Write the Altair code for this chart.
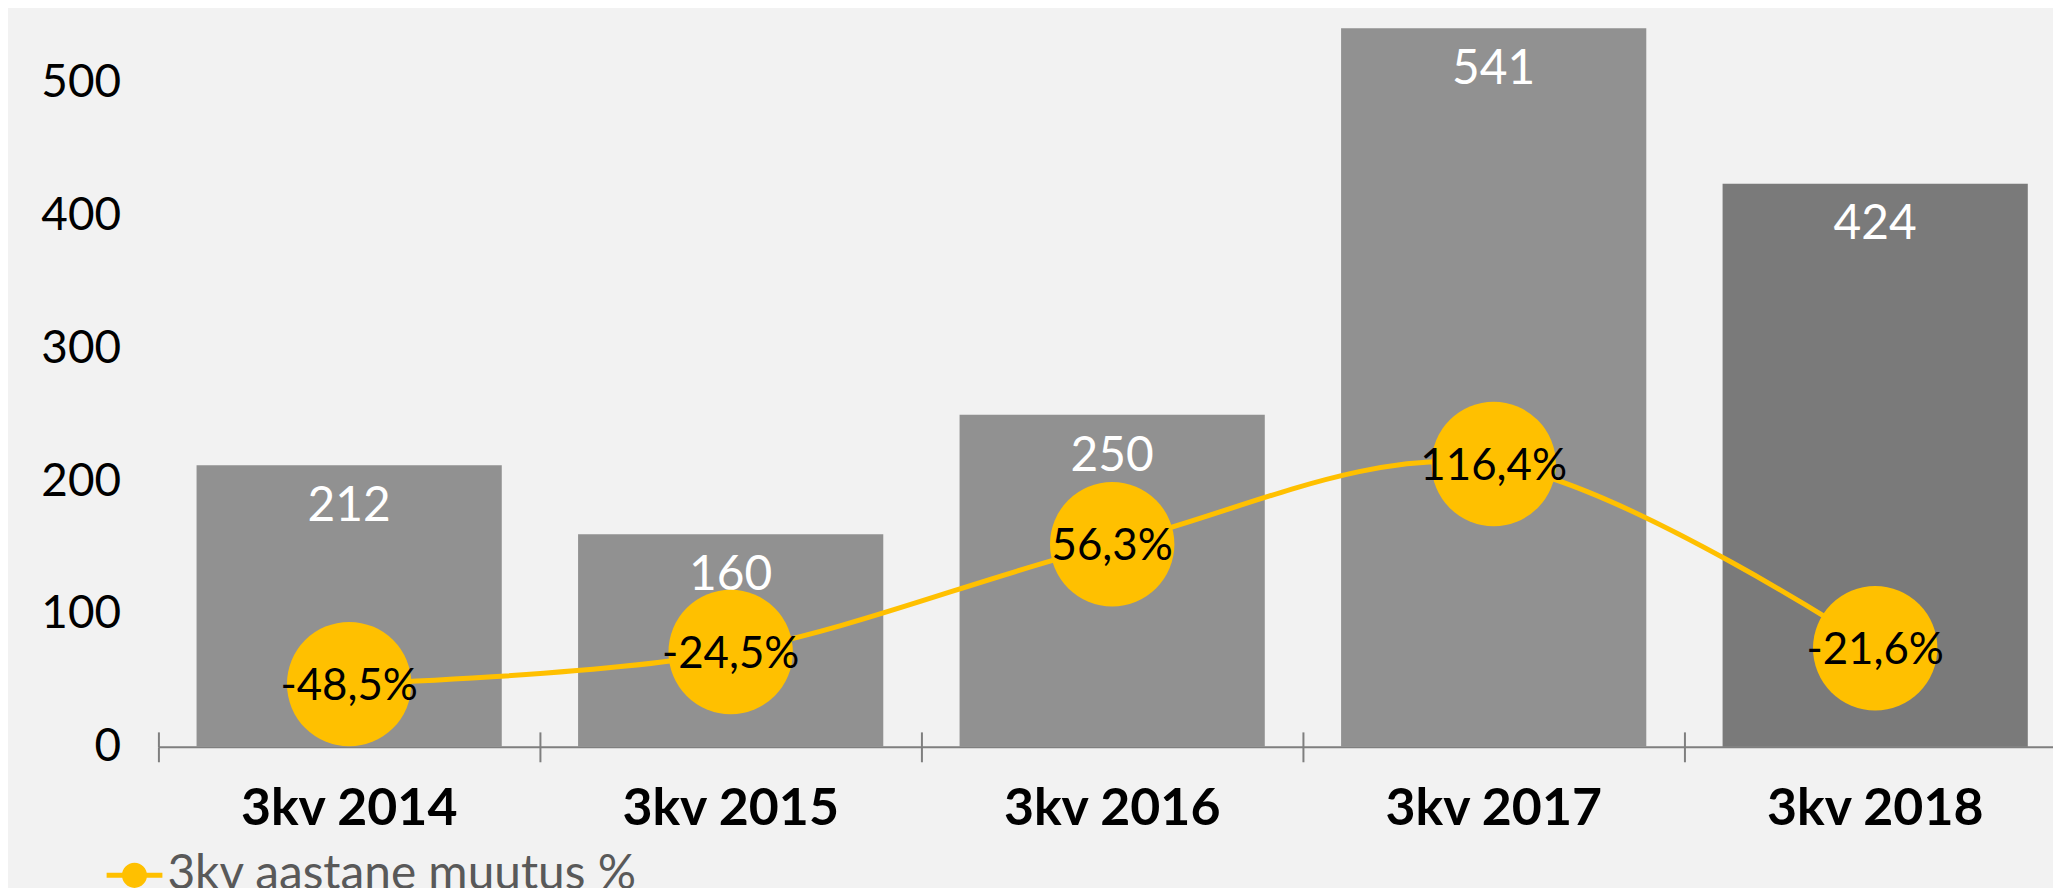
import altair as alt
import pandas as pd

quarters = ["3kv 2014", "3kv 2015", "3kv 2016", "3kv 2017", "3kv 2018"]
counts = [212, 160, 250, 541, 424]
pct_change = [-48.5, -24.5, 56.3, 116.4, -21.6]
series_name = "3kv aastane muutus %"

df = pd.DataFrame({"quarter": quarters, "count": counts, "pct": pct_change})

FONT = "Lato"
YELLOW = "#FFC000"
AXIS_GREY = "#7f7f7f"

xscale = alt.Scale(domain=quarters, range=[0, 1915], paddingInner=0, paddingOuter=0)

main_x_axis = alt.Axis(
    title=None, orient="bottom", labelAngle=0, labelFont=FONT, labelFontSize=52,
    labelFontWeight="bold", labelColor="#000000", labelBaseline="alphabetic",
    labelPadding=63, labelLimit=0, labelOverlap=False,
    domainColor=AXIS_GREY, domainWidth=2, tickColor=AXIS_GREY, tickWidth=2, tickSize=15,
    bandPosition=0, grid=False,
)
upper_tick_axis = alt.Axis(
    title=None, orient="bottom", labels=False, domain=False, tickColor=AXIS_GREY,
    tickWidth=2, tickSize=15, bandPosition=0, offset=-15, grid=False,
)
y_axis = alt.Axis(
    title=None, values=[0, 100, 200, 300, 400, 500], labelFont=FONT, labelFontSize=46,
    labelColor="#000000", labelPadding=38, ticks=False, tickSize=0, domain=False, grid=False,
)

base = alt.Chart(df)

bars = base.mark_bar(width=alt.RelativeBandSize(0.8)).encode(
    x=alt.X("quarter:N", sort=quarters, scale=xscale, axis=main_x_axis),
    y=alt.Y("count:Q", scale=alt.Scale(domain=[0, 555], nice=False, zero=True), axis=y_axis),
    color=alt.condition(alt.datum.quarter == "3kv 2018", alt.value("#7a7a7a"), alt.value("#919191")),
)

bar_text = base.mark_text(font=FONT, fontSize=48, color="#ffffff", baseline="alphabetic", dy=56).encode(
    x=alt.X("quarter:N", sort=quarters, scale=xscale, axis=upper_tick_axis),
    y=alt.Y("count:Q", scale=alt.Scale(domain=[0, 555], nice=False, zero=True), axis=None),
    text=alt.Text("count:Q"),
)

pscale = alt.Scale(domain=[-95.5, 456.7], nice=False, zero=False)

line = base.mark_line(interpolate="cardinal", color=YELLOW, strokeWidth=5).encode(
    x=alt.X("quarter:N", sort=quarters, scale=xscale, axis=None),
    y=alt.Y("pct:Q", scale=pscale, axis=None),
)

symbol_path = (
    "M-1,-0.09L1,-0.09L1,0.09L-1,0.09Z "
    "M0.45,0A0.45,0.45 0 1,1 -0.45,0A0.45,0.45 0 1,1 0.45,0Z"
)

dots = base.transform_calculate(series=f"'{series_name}'").mark_circle(size=15600, opacity=1).encode(
    x=alt.X("quarter:N", sort=quarters, scale=xscale, axis=None),
    y=alt.Y("pct:Q", scale=pscale, axis=None),
    color=alt.Color(
        "series:N",
        scale=alt.Scale(domain=[series_name], range=[YELLOW]),
        legend=alt.Legend(
            title=None, orient="none", legendX=-52, legendY=841, padding=0,
            symbolType=symbol_path, symbolSize=3136, symbolStrokeWidth=0,
            labelFont=FONT, labelFontSize=48, labelColor="#595959", labelOffset=5,
            labelLimit=0,
        ),
    ),
)

dot_text = base.transform_calculate(
    label="replace(replace(format(datum.pct, '.1f'), '.', ','), '\u2212', '-') + '%'"
).mark_text(font=FONT, fontSize=44, color="#000000", baseline="middle", dy=3).encode(
    x=alt.X("quarter:N", sort=quarters, scale=xscale, axis=None),
    y=alt.Y("pct:Q", scale=pscale, axis=None),
    text="label:N",
)

chart = (
    alt.layer(bars, bar_text, line, dots, dot_text)
    .resolve_scale(y="independent")
    .resolve_axis(x="independent")
    .properties(
        width=1902,
        height=740,
        autosize=alt.AutoSizeParams(type="none"),
        padding={"left": 151, "top": 0, "right": 0, "bottom": 140},
        background="#f2f2f2",
    )
    .configure_view(stroke=None)
)

chart.save("out.html", embed_options={"renderer": "svg", "actions": False})
